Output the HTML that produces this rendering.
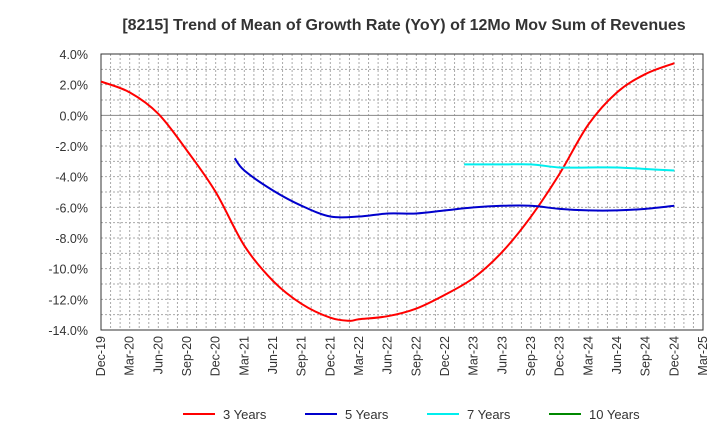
<!DOCTYPE html>
<html><head><meta charset="utf-8"><style>
body{margin:0;background:#fff;font-family:"Liberation Sans",sans-serif}
</style></head><body>
<svg id="c" width="720" height="440" font-family="Liberation Sans, sans-serif"></svg>
<script>
const xLabels=["Dec-19","Mar-20","Jun-20","Sep-20","Dec-20","Mar-21","Jun-21","Sep-21","Dec-21","Mar-22","Jun-22","Sep-22","Dec-22","Mar-23","Jun-23","Sep-23","Dec-23","Mar-24","Jun-24","Sep-24","Dec-24","Mar-25"];
const yTicks=[4,2,0,-2,-4,-6,-8,-10,-12,-14];
const red3M=[0,3,6,9,12,15,18,21,24,26,27,30,33,36,39,42,45,48,51,54,57,60];
const red3V=[2.2,1.5,0.1,-2.3,-5.0,-8.5,-10.8,-12.3,-13.2,-13.4,-13.3,-13.1,-12.6,-11.7,-10.6,-8.9,-6.6,-3.8,-0.6,1.5,2.7,3.4];
const blue5M=[14,15,18,21,24,27,30,33,36,39,42,45,48,51,54,57,60];
const blue5V=[-2.8,-3.6,-4.9,-5.9,-6.6,-6.6,-6.4,-6.4,-6.2,-6.0,-5.9,-5.9,-6.1,-6.2,-6.2,-6.1,-5.9];
const cyan7M=[38,42,45,48,51,54,57,60];
const cyan7V=[-3.2,-3.2,-3.2,-3.4,-3.4,-3.4,-3.5,-3.6];
const svg=document.getElementById('c');const NS='http://www.w3.org/2000/svg';
const L=101,R=703,T=54,B=330;
const x=m=>L+(R-L)*m/63, y=v=>T+(B-T)*(4-v)/18;
function mk(t,a,p){const e=document.createElementNS(NS,t);for(const k in a)e.setAttribute(k,a[k]);(p||svg).appendChild(e);return e;}
let t=mk('text',{x:404,y:30,'text-anchor':'middle','font-size':16,'font-weight':'bold',fill:'#333'});t.textContent='[8215]  Trend of Mean of Growth Rate (YoY) of 12Mo Mov Sum of Revenues';

for(let m=1;m<63;m++){let l=mk('line',{x1:x(m),x2:x(m),y1:T,y2:B,stroke:'#aaa','stroke-dasharray':'2,2','stroke-width':1});}
for(let v=3;v>-14;v--){let l=mk('line',{x1:L,x2:R,y1:y(v),y2:y(v),stroke:v==0?'#888':'#aaa','stroke-dasharray':v==0?'':'2,2','stroke-width':1});}
let fr=mk('rect',{x:L,y:T,width:R-L,height:B-T,fill:'none',stroke:'#333'});
yTicks.forEach(v=>{let e=mk('text',{x:L-13,y:y(v)+5,'text-anchor':'end','font-size':12.5,fill:'#333'});e.textContent=v.toFixed(1)+'%';});
xLabels.forEach((s,i)=>{let px=x(i*3);let e=mk('text',{transform:`translate(${px+4},${B+6}) rotate(-90)`,'text-anchor':'end','font-size':12.5,fill:'#333'});e.textContent=s;});
function path(ms,vs){const p=ms.map((m,i)=>[x(m),y(vs[i])]);let d='M'+p[0];for(let i=0;i<p.length-1;i++){const p0=p[i-1]||p[i],p1=p[i],p2=p[i+1],p3=p[i+2]||p2;const c1=[p1[0]+(p2[0]-p0[0])/6,p1[1]+(p2[1]-p0[1])/6],c2=[p2[0]-(p3[0]-p1[0])/6,p2[1]-(p3[1]-p1[1])/6];d+=`C${c1} ${c2} ${p2}`;}return d;}
[[red3M,red3V,'#f00','series-3-years'],[blue5M,blue5V,'#00c','series-5-years'],[cyan7M,cyan7V,'#0ee','series-7-years']].forEach(s=>{let e=mk('path',{d:path(s[0],s[1]),fill:'none',stroke:s[2],'stroke-width':2});});
[['3 Years','#f00',183],['5 Years','#00c',305],['7 Years','#0ee',427],['10 Years','#080',549]].forEach(l=>{let g=mk('g',{});mk('line',{x1:l[2],x2:l[2]+32,y1:414,y2:414,stroke:l[1],'stroke-width':2},g);let e=mk('text',{x:l[2]+40,y:419,'font-size':13,fill:'#333'},g);e.textContent=l[0];});
</script></body></html>
